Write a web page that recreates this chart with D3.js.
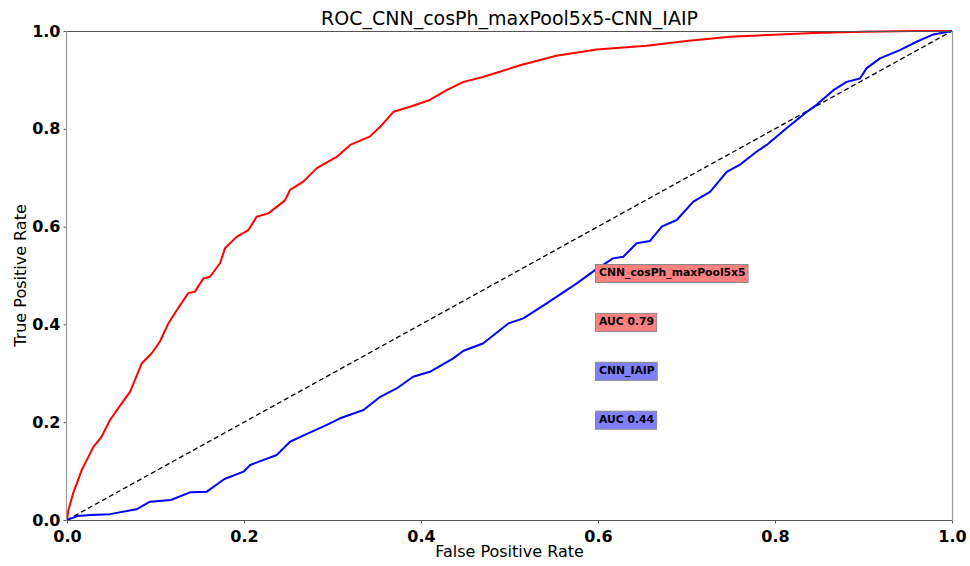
<!DOCTYPE html>
<html><head><meta charset="utf-8">
<script src="https://cdn.jsdelivr.net/npm/d3@7"></script>
<style>body{margin:0;background:#fff}svg{display:block}text{font-family:"DejaVu Sans",sans-serif}</style>
</head><body><svg id="c" width="970" height="566"></svg>
<script>
const title = "ROC_CNN_cosPh_maxPool5x5-CNN_IAIP";
const xLabel = "False Positive Rate";
const yLabel = "True Positive Rate";
const tickValues = [0, 0.2, 0.4, 0.6, 0.8, 1.0];
const seriesNames = ["CNN_cosPh_maxPool5x5", "CNN_IAIP"];
const aucValues = [0.79, 0.44];
const seriesColors = ["#ff0000", "#0000ff"];
const boxColors = ["#ff8080", "#8080ff"];
const labelY = [0.5, 0.4, 0.3, 0.2];
const labelX = 0.6;

const redFpr = [0,0.0015,0.007,0.0166,0.030,0.039,0.0486,0.0618,0.0712,0.0844,0.0957,0.105,0.1145,0.124,0.137,0.1446,0.154,0.1616,0.1729,0.1785,0.1917,0.2049,0.2143,0.2275,0.2463,0.252,0.267,0.282,0.305,0.320,0.342,0.354,0.369,0.3876,0.410,0.429,0.448,0.470,0.489,0.512,0.553,0.5985,0.655,0.700,0.749,0.8056,0.843,0.900,0.956,1.0];
const redTpr = [0,0.02,0.055,0.102,0.15,0.170,0.2045,0.2386,0.262,0.320,0.341,0.365,0.402,0.429,0.464,0.467,0.494,0.4975,0.525,0.5556,0.579,0.593,0.620,0.627,0.6537,0.675,0.692,0.719,0.743,0.767,0.784,0.804,0.835,0.845,0.859,0.879,0.896,0.906,0.9168,0.930,0.9495,0.962,0.970,0.9796,0.9884,0.993,0.9959,0.9986,1.0,1.0];

const blueFpr = [0,0.0115,0.0267,0.0486,0.0785,0.0938,0.1174,0.139,0.158,0.1779,0.1995,0.207,0.237,0.252,0.2686,0.293,0.3085,0.335,0.354,0.3725,0.391,0.410,0.4365,0.448,0.470,0.4987,0.5156,0.542,0.576,0.5966,0.617,0.6286,0.6437,0.6588,0.672,0.689,0.7077,0.7266,0.7454,0.760,0.779,0.7906,0.813,0.834,0.847,0.866,0.881,0.896,0.9036,0.9186,0.941,0.960,0.979,1.0];
const blueTpr = [0,0.008,0.010,0.012,0.0218,0.0375,0.041,0.0566,0.058,0.0838,0.0988,0.1125,0.133,0.160,0.174,0.194,0.208,0.225,0.252,0.269,0.293,0.303,0.3306,0.346,0.361,0.402,0.4124,0.443,0.484,0.511,0.535,0.5385,0.566,0.5706,0.600,0.6135,0.651,0.671,0.712,0.726,0.753,0.767,0.801,0.832,0.849,0.879,0.896,0.903,0.924,0.944,0.961,0.978,0.993,1.0];

const svg = d3.select("#c");
const L = 67, R = 952, T = 31, B = 520;
const x = d3.scaleLinear().domain([0,1]).range([L,R]);
const y = d3.scaleLinear().domain([0,1]).range([B,T]);

// axes
const xa = svg.append("g").attr("transform",`translate(0,${B})`)
  .call(d3.axisBottom(x).tickValues(tickValues).tickFormat(d3.format(".1f")).tickSize(3.5).tickPadding(3));
const ya = svg.append("g").attr("transform",`translate(${L},0)`)
  .call(d3.axisLeft(y).tickValues(tickValues).tickFormat(d3.format(".1f")).tickSize(3.5).tickPadding(3));
[xa,ya].forEach(a=>{
  a.select(".domain").remove();
  a.selectAll(".tick line").attr("stroke","#555");
  a.selectAll(".tick text").attr("fill","#000").style("font-size","16px").style("font-weight","bold").style("font-family","DejaVu Sans");
});
xa.selectAll(".tick text").attr("dy","0.95em");

// clip
svg.append("clipPath").attr("id","clip").append("rect").attr("x",L).attr("y",T-2).attr("width",R-L+2).attr("height",B-T+4);
const plot = svg.append("g").attr("clip-path","url(#clip)");

plot.append("line").attr("x1",x(0)).attr("y1",y(0)).attr("x2",x(1)).attr("y2",y(1))
  .attr("stroke","#000").attr("stroke-width",1.3).attr("stroke-dasharray","5,3");

const line = d3.line().x(d=>x(d[0])).y(d=>y(d[1]));
const series = [d3.zip(redFpr,redTpr), d3.zip(blueFpr,blueTpr)];
series.forEach((s,i)=>{
  plot.append("path").datum(s).attr("d",line).attr("fill","none")
    .attr("stroke",seriesColors[i]).attr("stroke-width",2).attr("stroke-linejoin","round");
});

// spines
svg.append("line").attr("x1",L).attr("x2",R+0.5).attr("y1",T+0.5).attr("y2",T+0.5).attr("stroke","#555");
svg.append("line").attr("x1",L).attr("x2",R+0.5).attr("y1",B+0.5).attr("y2",B+0.5).attr("stroke","#555");
svg.append("line").attr("x1",L-0.5).attr("x2",L-0.5).attr("y1",T).attr("y2",B+1).attr("stroke","#999").attr("stroke-width",1.2);
svg.append("line").attr("x1",R+0.5).attr("x2",R+0.5).attr("y1",T).attr("y2",B+1).attr("stroke","#999").attr("stroke-width",1.2);

// text boxes
const labels = [seriesNames[0], "AUC " + aucValues[0].toFixed(2), seriesNames[1], "AUC " + aucValues[1].toFixed(2)];
const lblColors = [boxColors[0], boxColors[0], boxColors[1], boxColors[1]];
labels.forEach((t,i)=>{
  const g = svg.append("g");
  const r = g.append("rect");
  const tx = g.append("text").attr("x",x(labelX)+1).attr("y",y(labelY[i])+0.5)
    .style("font-size","10.8px").style("font-weight","bold").attr("fill","#000").text(t);
  const w = tx.node().getComputedTextLength();
  r.attr("x",x(labelX)-2.5).attr("y",y(labelY[i])-11).attr("width",w+6).attr("height",18)
    .attr("fill",lblColors[i]).attr("stroke","#888").attr("stroke-width",1);
});

// titles
svg.append("text").attr("x",(L+R)/2).attr("y",25).attr("text-anchor","middle").style("font-size","19px").text(title);
svg.append("text").attr("x",(L+R)/2).attr("y",557).attr("text-anchor","middle").style("font-size","16px").text(xLabel);
svg.append("text").attr("transform",`translate(26,${(T+B)/2}) rotate(-90)`).attr("text-anchor","middle").style("font-size","16px").text(yLabel);
</script></body></html>
